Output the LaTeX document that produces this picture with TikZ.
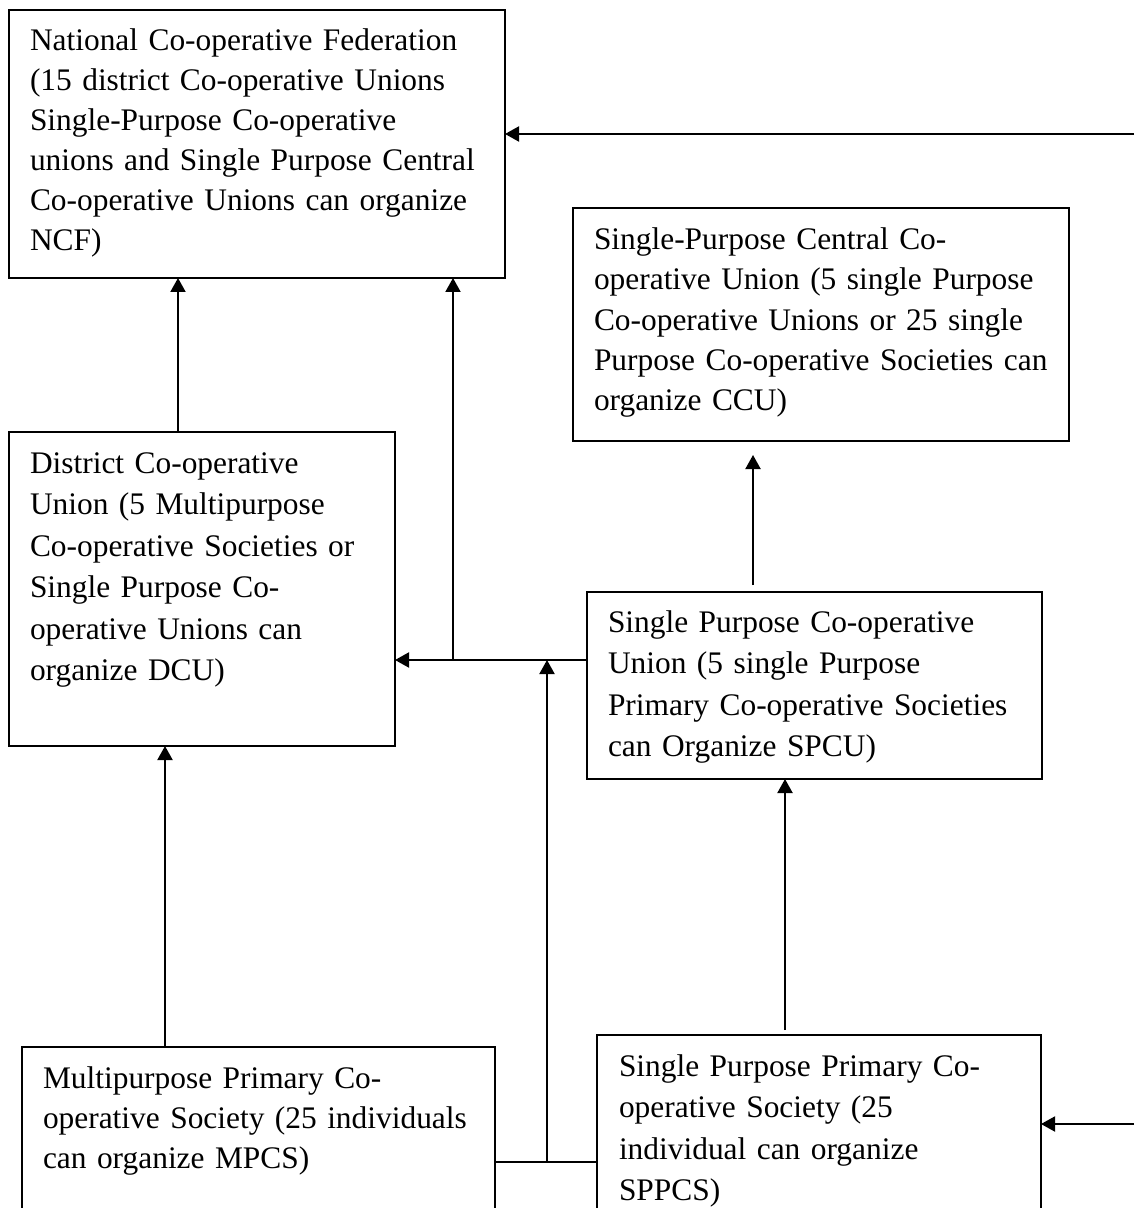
\documentclass[tikz,border=0pt]{standalone}
\usepackage{fontspec}
\setmainfont{Liberation Serif}
\usetikzlibrary{arrows.meta,calc}
\begin{document}
\begin{tikzpicture}[x=0.5pt,y=-0.5pt,
  box/.style={draw,line width=1pt,inner sep=0pt,outer sep=0pt,anchor=north west},
  txt/.style={anchor=base west,inner sep=0pt,outer sep=0pt,text width=300pt,align=left,
    font=\fontsize{15.7pt}{20pt}\selectfont},
  txtb/.style={txt,font=\fontsize{15.7pt}{20.75pt}\selectfont},
  conn/.style={line width=1pt},
  arr/.style={line width=1pt,-{Triangle[length=7pt,width=7.5pt]}}]
\clip (0,0) rectangle (1134,1208);
% boxes
\node[box,minimum width=248pt,minimum height=134pt] (ncf) at (9,10) {};
\node[box,minimum width=248pt,minimum height=116.5pt] (spccu) at (573,208) {};
\node[box,minimum width=193pt,minimum height=157pt] (dcu) at (9,432) {};
\node[box,minimum width=227.5pt,minimum height=93.5pt] (spcu) at (587,592) {};
\node[box,minimum width=236.5pt,minimum height=110pt] (mpcs) at (22,1047) {};
\node[box,minimum width=222pt,minimum height=110pt] (sppcs) at (597,1035) {};
% texts
\node[txt] (ncft) at (30,51) {National Co-operative Federation\\(15 district Co-operative Unions\\Single-Purpose Co-operative\\unions and Single Purpose Central\\Co-operative Unions can organize\\NCF)};
\node[txt] (spccut) at (594,250) {Single-Purpose Central Co-\\operative Union (5 single Purpose\\Co-operative Unions or 25 single\\Purpose Co-operative Societies can\\organize CCU)};
\node[txtb] (dcut) at (30,473) {District Co-operative\\Union (5 Multipurpose\\Co-operative Societies or\\Single Purpose Co-\\operative Unions can\\organize DCU)};
\node[txtb] (spcut) at (608,632) {Single Purpose Co-operative\\Union (5 single Purpose\\Primary Co-operative Societies\\can Organize SPCU)};
\node[txt] (mpcst) at (43,1088) {Multipurpose Primary Co-\\operative Society (25 individuals\\can organize MPCS)};
\node[txtb] (sppcst) at (619,1076) {Single Purpose Primary Co-\\operative Society (25\\individual can organize\\SPPCS)};
% helper coordinates
\coordinate (rin1) at (1134,134);
\coordinate (rin2) at (1134,1124);
\coordinate (h1) at ($(spcu.north west)+(0,68)$);
\coordinate (v1) at ($(ncf.south west)+(444,0)$);
\coordinate (v2) at ($(spcu.north west)+(-40,0)$);
\coordinate (b1) at ($(mpcs.north east)+(0,115)$);
\coordinate (d1) at ($(dcu.north west)+(169,0)$);
\coordinate (u1) at ($(spccu.south west)+(180,0)$);
\coordinate (u2) at ($(spcu.south west)+(198,0)$);
\coordinate (m1) at ($(mpcs.north west)+(143,0)$);
% connectors
\draw[arr] (rin1) -- (rin1 -| ncf.east);
\draw[arr] (rin2) -- (rin2 -| sppcs.east);
\draw[arr] (d1) -- (d1 |- ncf.south);
\draw[arr] (h1) -- (h1 -| dcu.east);
\draw[arr] (v1 |- h1) -- (v1);
\draw[conn] (b1) -- (b1 -| sppcs.west);
\draw[arr] (b1 -| v2) -- (h1 -| v2);
\draw[arr,shorten <=3.5pt,shorten >=7pt] (u1 |- spcu.north) -- (u1);
\draw[arr,shorten <=2.5pt] (u2 |- sppcs.north) -- (u2);
\draw[arr] (m1) -- (m1 |- dcu.south);
\end{tikzpicture}
\end{document}
